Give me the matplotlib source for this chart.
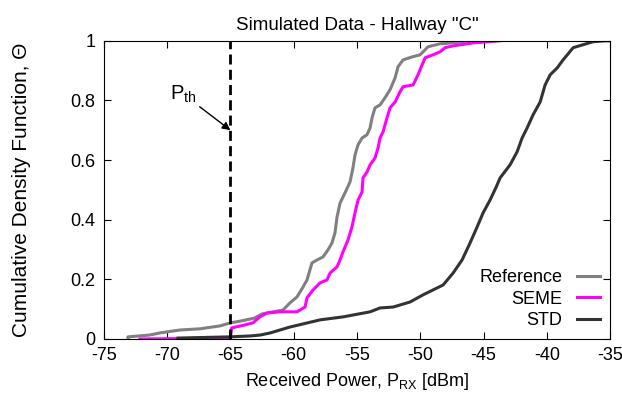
import matplotlib
matplotlib.use("Agg")
import matplotlib.pyplot as plt

plt.rcParams['font.family'] = ['Liberation Sans', 'DejaVu Sans']
plt.rcParams['mathtext.default'] = 'regular'
plt.rcParams['axes.unicode_minus'] = False

# curves (received power in dBm, CDF value)
ref_x = [-73.1, -73.1, -71.4, -70.6, -69.0, -67.4, -65.8, -65.0, -64.2, -63.1, -62.5,
         -60.85, -60.3, -59.74, -59.27, -58.95, -58.72, -58.56, -58.16, -57.69, -57.29,
         -56.98, -56.74, -56.58, -56.34, -55.95, -55.55, -55.32, -55.16, -54.92, -54.6,
         -54.21, -53.97, -53.81, -53.58, -53.18, -52.79, -52.39, -51.99, -51.76, -51.36,
         -50.65, -50.02, -49.62, -49.39, -48.44, -47.41, -46.07]
ref_y = [0.0, 0.007, 0.013, 0.02, 0.03, 0.034, 0.044, 0.054, 0.06, 0.07, 0.084,
         0.097, 0.121, 0.141, 0.174, 0.198, 0.232, 0.255, 0.265, 0.275, 0.299,
         0.322, 0.356, 0.409, 0.456, 0.49, 0.527, 0.574, 0.617, 0.651, 0.674,
         0.685, 0.708, 0.742, 0.775, 0.785, 0.809, 0.836, 0.876, 0.913, 0.936,
         0.946, 0.953, 0.97, 0.98, 0.99, 0.993, 1.0]

seme_x = [-72.15, -65.0, -64.9, -63.85, -63.22, -62.67, -62.11, -61.09, -59.74, -59.11,
          -58.95, -58.48, -57.92, -57.37, -57.13, -56.58, -56.34, -56.11, -55.71, -55.4,
          -55.16, -54.92, -54.6, -54.53, -54.21, -53.97, -53.58, -53.34, -53.18, -52.94,
          -52.63, -52.39, -51.99, -51.6, -51.36, -50.57, -50.18, -49.86, -49.62, -48.99,
          -48.44, -48.04, -47.41, -45.83, -43.7]
seme_y = [0.0, 0.003, 0.037, 0.047, 0.054, 0.074, 0.087, 0.091, 0.091, 0.107,
          0.138, 0.164, 0.188, 0.198, 0.221, 0.242, 0.265, 0.292, 0.332, 0.376,
          0.423, 0.466, 0.493, 0.54, 0.56, 0.584, 0.607, 0.641, 0.674, 0.695,
          0.742, 0.775, 0.795, 0.829, 0.846, 0.852, 0.886, 0.919, 0.943, 0.953,
          0.963, 0.977, 0.983, 0.993, 1.0]

std_x = [-69.15, -65.04, -63.46, -62.67, -61.88, -60.3, -57.92, -56.11, -53.97, -53.18,
         -52.15, -50.81, -49.78, -48.2, -47.41, -46.7, -46.07, -45.51, -45.04, -44.49,
         -44.0, -43.7, -42.91, -42.35, -41.96, -41.56, -41.09, -40.53, -40.14, -39.74,
         -39.19, -38.72, -37.92, -37.13, -36.34, -35.4, -35.0]
std_y = [0.003, 0.007, 0.01, 0.013, 0.02, 0.04, 0.064, 0.074, 0.091, 0.104,
         0.107, 0.124, 0.148, 0.181, 0.221, 0.265, 0.322, 0.376, 0.423, 0.466,
         0.51, 0.54, 0.584, 0.628, 0.674, 0.708, 0.752, 0.795, 0.852, 0.886,
         0.909, 0.936, 0.977, 0.987, 0.997, 1.0, 1.0]

p_th = -65
x_ticks = [-75, -70, -65, -60, -55, -50, -45, -40, -35]
y_ticks = [0, 0.2, 0.4, 0.6, 0.8, 1]
y_tick_labels = ['0', '0.2', '0.4', '0.6', '0.8', '1']

FS = 13

fig = plt.figure(figsize=(6.22, 4.04), dpi=100)
ax = fig.add_axes([0.167, 0.161, 0.814, 0.738])

ax.plot(ref_x, ref_y, color='#808080', lw=2.2, label='Reference')
ax.plot(seme_x, seme_y, color='#ff00ff', lw=2.2, label='SEME')
ax.plot(std_x, std_y, color='#333333', lw=2.2, label='STD')
ax.axvline(p_th, color='black', lw=2.0, dashes=(3.6, 1.9))

ax.annotate('P$_{th}$', xy=(p_th, 0.7), xytext=(-68.7, 0.82),
            fontsize=14.5, ha='center', va='center',
            arrowprops=dict(arrowstyle='-|>', color='black', lw=1.0,
                            shrinkA=0, shrinkB=0, mutation_scale=12))

ax.set_xlim(-75, -35)
ax.set_ylim(0, 1)
ax.set_xticks(x_ticks)
ax.set_yticks(y_ticks)
ax.set_yticklabels(y_tick_labels)
ax.tick_params(direction='in', length=5, top=True, right=True, labelsize=FS, pad=6)

ax.set_xlabel('Received Power, P$_{RX}$ [dBm]', fontsize=FS, labelpad=5)
ax.set_ylabel('Cumulative Density Function, Θ', fontsize=15)
ax.yaxis.set_label_coords(-0.144, 0.5)
ax.set_title('Simulated Data - Hallway "C"', fontsize=13.5, pad=8)

ax.legend(loc='lower right', frameon=False, markerfirst=False, fontsize=FS,
          handlelength=1.3, handletextpad=0.8, labelspacing=0.25, borderaxespad=0.15,
          bbox_to_anchor=(1.0, 0.0))

fig.savefig('out.png', dpi=100)
